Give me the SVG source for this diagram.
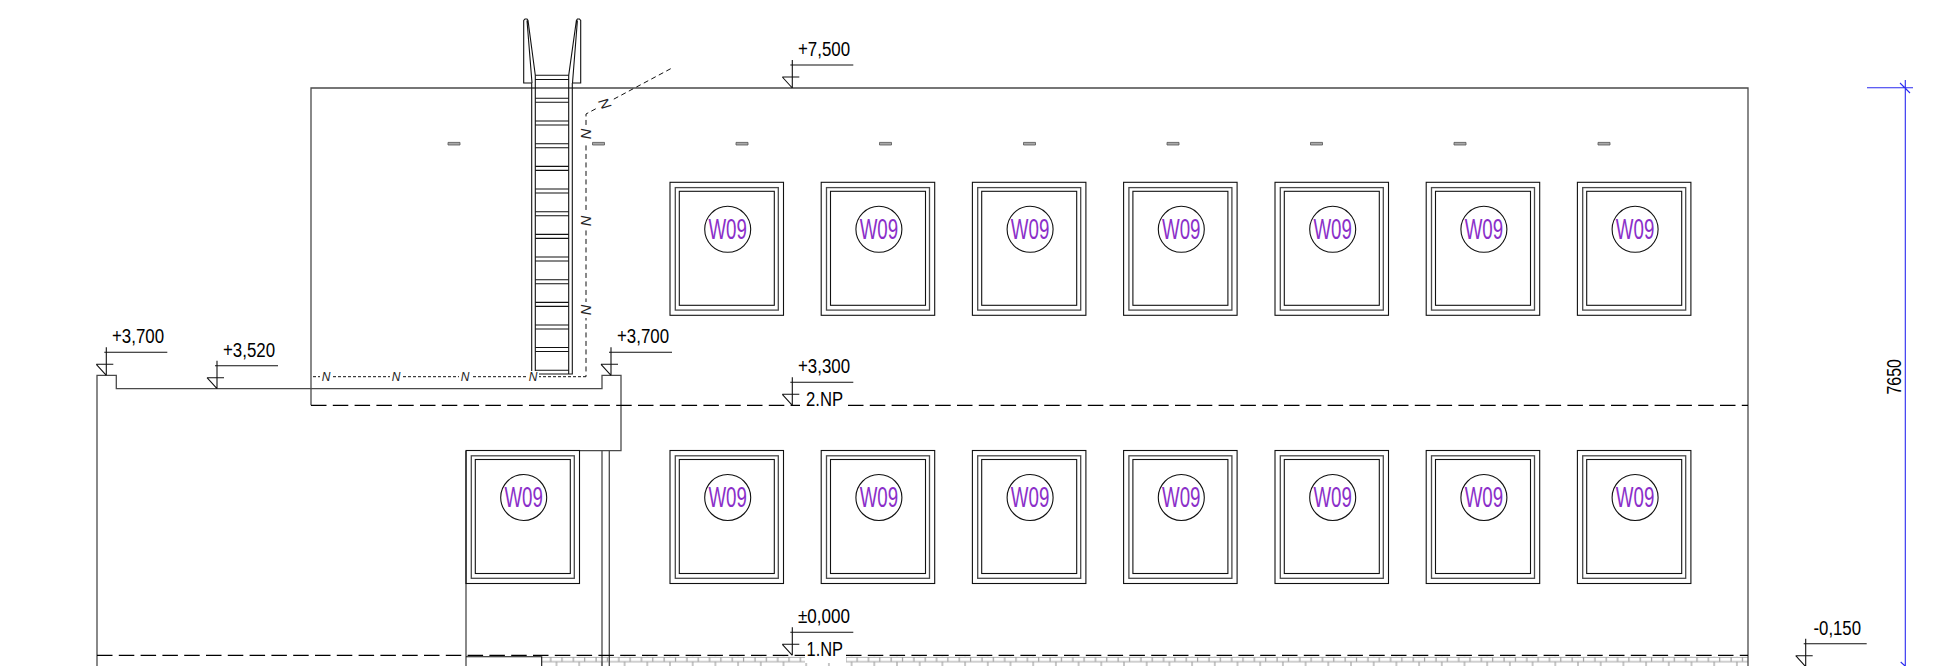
<svg xmlns="http://www.w3.org/2000/svg" width="1940" height="666" viewBox="0 0 1940 666">
<style>
.l{fill:none;stroke:#111;stroke-width:1.1}
.g{fill:none;stroke:#4a4a4a;stroke-width:1.3}
.d{fill:none;stroke:#000;stroke-width:1.3;stroke-dasharray:15.5 6.3}
.n{fill:none;stroke:#111;stroke-width:1;stroke-dasharray:5 3.5}
.m{fill:none;stroke:#111;stroke-width:1;stroke-dasharray:3 2}
.b{fill:none;stroke:#2a2af0;stroke-width:1.1}
.t{font-family:"Liberation Sans",Arial,sans-serif;font-size:20px;fill:#000}
.w{font-family:"Liberation Sans",Arial,sans-serif;font-size:29px;fill:#8b2fc9;text-anchor:middle}
.i{font-family:"Liberation Sans",Arial,sans-serif;font-size:12px;font-style:italic;fill:#222;text-anchor:middle}
.j{font-family:"Liberation Sans",Arial,sans-serif;font-size:14.5px;font-style:italic;fill:#222;text-anchor:middle}
.s{fill:#aaa;stroke:#555;stroke-width:.8}
</style>
<defs>
<pattern id="brick" patternUnits="userSpaceOnUse" x="541.7" y="656.7" width="22.7" height="10">
<path d="M0 .4H22.7M0 5H22.7M9 0V5M20.3 0V5M14.8 5V10" fill="none" stroke="#a0a0a0" stroke-width="1.2"/>
</pattern>
<g id="win">
<rect x="0" y="0" width="113.5" height="133" class="l"/>
<rect x="5.3" y="5.3" width="103" height="122.5" class="g"/>
<rect x="9.3" y="9" width="95" height="114" class="l"/>
<circle cx="57.7" cy="47" r="23" class="l"/>
<text x="57.7" y="56.5" class="w" textLength="38.5" lengthAdjust="spacingAndGlyphs">W09</text>
</g>
<g id="lev">
<path d="M0 0V-28M-2-23H61M-10-11H7M-10-11L0 0" class="l"/>
</g>
<path id="slot" d="M-6-1.3H6V1.3H-6Z" class="s"/>
</defs>

<g id="hatch">
<rect x="541.7" y="656.7" width="1206.3" height="9.3" fill="url(#brick)"/>
<rect x="805" y="650" width="41" height="13" fill="#fff"/>
</g>

<g id="walls">
<path d="M311 405.3V88H1748V666" class="g"/>
<path d="M97 666V375.3H116.3V388.7H602V375.3H621V450.7H579" class="g"/>
<path d="M466 451V666M602 451V666M609.3 451V666" class="g"/>
<path d="M466 656.7H541.7V666" class="l"/>
<path d="M311 405.3H800M848 405.3H1748" class="d"/>
<path d="M97 655.3H805M846 655.3H1748" class="d"/>
</g>

<g id="ladder">
<path d="M531.7 83V374H572.3V83M535.3 75.3V374M568.7 75.3V374M535.3 75.3H568.7M535.3 79.5H568.7" class="l"/>
<path d="M535.3 98.3H568.7M535.3 102.3H568.7M535.3 121H568.7M535.3 125H568.7M535.3 143.7H568.7M535.3 147.7H568.7M535.3 166.4H568.7M535.3 170.4H568.7M535.3 189H568.7M535.3 193H568.7M535.3 211.7H568.7M535.3 215.7H568.7M535.3 234.4H568.7M535.3 238.4H568.7M535.3 257H568.7M535.3 261H568.7M535.3 279.7H568.7M535.3 283.7H568.7M535.3 302.4H568.7M535.3 306.4H568.7M535.3 325H568.7M535.3 329H568.7M535.3 347.5H568.7M535.3 351.5H568.7M535.3 370.3H568.7" class="l"/>
<path d="M531.7 83H523.7V20.5L525 19H527L528 20.5L535.3 75.3M527 20.5L532 83" class="l"/>
<path d="M572.3 83H580.7V20.5L579.4 19H577.4L576.4 20.5L568.7 75.3M577.4 20.5L572.5 83" class="l"/>
</g>

<g id="pipe">
<path d="M670.7 68.7L586 114V376.7" class="n"/>
<path d="M586 376.7H311" class="m"/>
<g fill="#fff" stroke="none">
<rect x="597" y="96" width="16" height="16"/><rect x="579" y="126" width="14" height="16"/><rect x="579" y="213" width="14" height="16"/><rect x="579" y="302" width="14" height="16"/>
<rect x="320" y="371" width="12" height="12"/><rect x="390" y="371" width="12" height="12"/><rect x="459" y="371" width="12" height="12"/><rect x="527" y="371" width="12" height="12"/>
</g>
<text class="j" transform="translate(605 104) rotate(-118)" y="5">N</text>
<text class="j" transform="translate(586 134) rotate(-90)" y="5">N</text>
<text class="j" transform="translate(586 221) rotate(-90)" y="5">N</text>
<text class="j" transform="translate(586 310) rotate(-90)" y="5">N</text>
<text class="i" x="326" y="381.3">N</text>
<text class="i" x="396" y="381.3">N</text>
<text class="i" x="465" y="381.3">N</text>
<text class="i" x="533" y="381.3">N</text>
</g>

<g id="slots">
<use href="#slot" x="454" y="143.7"/>
<use href="#slot" x="598.5" y="143.7"/>
<use href="#slot" x="742" y="143.7"/>
<use href="#slot" x="885.5" y="143.7"/>
<use href="#slot" x="1029.5" y="143.7"/>
<use href="#slot" x="1173" y="143.7"/>
<use href="#slot" x="1316.5" y="143.7"/>
<use href="#slot" x="1460" y="143.7"/>
<use href="#slot" x="1604" y="143.7"/>
</g>

<g id="windows-upper">
<use href="#win" x="670" y="182.3"/>
<use href="#win" x="821.2" y="182.3"/>
<use href="#win" x="972.4" y="182.3"/>
<use href="#win" x="1123.6" y="182.3"/>
<use href="#win" x="1275" y="182.3"/>
<use href="#win" x="1426.2" y="182.3"/>
<use href="#win" x="1577.4" y="182.3"/>
</g>
<g id="windows-lower">
<use href="#win" x="466" y="450.5"/>
<use href="#win" x="670" y="450.5"/>
<use href="#win" x="821.2" y="450.5"/>
<use href="#win" x="972.4" y="450.5"/>
<use href="#win" x="1123.6" y="450.5"/>
<use href="#win" x="1275" y="450.5"/>
<use href="#win" x="1426.2" y="450.5"/>
<use href="#win" x="1577.4" y="450.5"/>
</g>

<g id="levels">
<use href="#lev" x="792.3" y="88"/><text class="t" x="798" y="56" textLength="52" lengthAdjust="spacingAndGlyphs">+7,500</text>
<use href="#lev" x="106.3" y="375.3"/><text class="t" x="112" y="343.3" textLength="52" lengthAdjust="spacingAndGlyphs">+3,700</text>
<use href="#lev" x="217" y="388.7"/><text class="t" x="223" y="356.7" textLength="52" lengthAdjust="spacingAndGlyphs">+3,520</text>
<use href="#lev" x="611" y="375.3"/><text class="t" x="617" y="343.3" textLength="52" lengthAdjust="spacingAndGlyphs">+3,700</text>
<use href="#lev" x="792.3" y="405.3"/><text class="t" x="798" y="373.3" textLength="52" lengthAdjust="spacingAndGlyphs">+3,300</text>
<text class="t" x="806" y="405.5" textLength="37" lengthAdjust="spacingAndGlyphs">2.NP</text>
<use href="#lev" x="792.3" y="655.3"/><text class="t" x="798" y="623.3" textLength="52" lengthAdjust="spacingAndGlyphs">±0,000</text>
<text class="t" x="806.5" y="655.5" textLength="36.5" lengthAdjust="spacingAndGlyphs">1.NP</text>
<use href="#lev" x="1805.7" y="666.7"/><text class="t" x="1813.5" y="635" textLength="47.5" lengthAdjust="spacingAndGlyphs">-0,150</text>
</g>

<g id="dimension">
<path d="M1905.3 80V666M1867 87.7H1913M1900 83L1910 93M1900.7 662L1905 666" class="b"/>
<text class="t" style="font-size:21px" transform="translate(1900.5 394.5) rotate(-90)" textLength="35.5" lengthAdjust="spacingAndGlyphs">7650</text>
</g>
</svg>
